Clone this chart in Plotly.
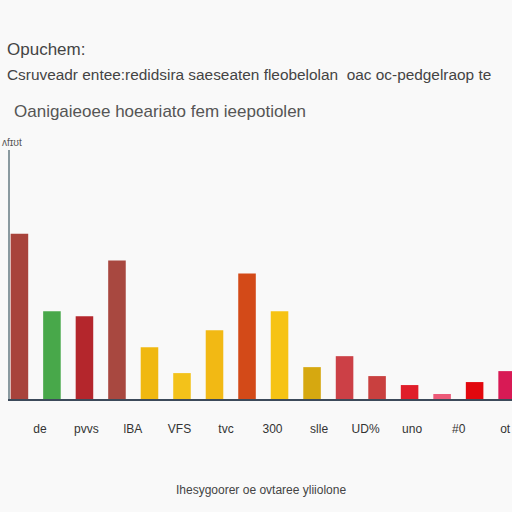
import numpy as np
import plotly.graph_objects as go

# bar values (pixel height above baseline)
values = [166, 88, 83, 139, 52, 26, 69, 126, 88, 32, 43, 23, 14, 5, 17, 28]
colors = ["#a8433b", "#48a84a", "#b4262c", "#a84840", "#f0b810", "#f3c21a",
          "#f2b914", "#d34a18", "#f6c314", "#d6a810", "#cc4046", "#c9403f",
          "#e01e2a", "#ec5a78", "#e2080e", "#d81a55"]
tick_labels = ["de", "pvvs", "lBA", "VFS", "tvc", "300", "slle", "UD%", "uno", "#0", "ot"]

title_top = "Opuchem:"
subtitle = "Csruveadr entee:redidsira saeseaten fleobelolan  oac oc-pedgelraop te"
heading = "Oanigaieoee hoeariato fem ieepotiolen"
x_title = "Ihesygoorer oe ovtaree yliiolone"
y_label = "ʌfɪʊt"

x = np.arange(len(values))

fig = go.Figure()
fig.add_trace(go.Bar(
    x=x, y=values, marker_color=colors, width=0.54,
    marker_line_width=0, showlegend=False,
))

fig.update_layout(
    width=512, height=512,
    margin=dict(l=10, r=0, t=150, b=113),
    paper_bgcolor="#f9f9f9", plot_bgcolor="#f9f9f9",
    font=dict(family="Liberation Sans, Arial, sans-serif", color="#444"),
)
fig.update_xaxes(
    range=[-0.29, 15.15],
    tickvals=np.linspace(0.63, 14.94, len(tick_labels)),
    ticktext=tick_labels,
    tickfont=dict(size=12, color="#333"),
    ticks="", showgrid=False, zeroline=False,
    showline=True, linecolor="#3c4a5a", linewidth=2,
    ticklabelstandoff=18,
)
fig.update_yaxes(
    range=[0, 250], showticklabels=False, showgrid=False, zeroline=False,
    showline=True, linecolor="#8a9aa0", linewidth=2,
)

# title block, positioned by pixel row from the top of the page
anns = [
    (title_top, -0.01, 50, 17, "#444"),
    (subtitle, -0.01, 74, 15.4, "#444"),
    (heading, 0.004, 111, 17, "#555"),
]
for text, xp, ypx, size, col in anns:
    fig.add_annotation(text=text, x=xp, xref="paper", y=(512 - ypx - 113) / 249,
                       yref="paper", xanchor="left", yanchor="middle",
                       showarrow=False, font=dict(size=size, color=col))
fig.add_annotation(text=y_label, x=-0.02, xref="paper", y=1.0, yref="paper",
                   xanchor="left", yanchor="bottom", showarrow=False,
                   font=dict(size=10, color="#555"))
fig.add_annotation(text=x_title, x=0.5, xref="paper", y=(512 - 490 - 113) / 249,
                   yref="paper", xanchor="center", yanchor="middle",
                   showarrow=False, font=dict(size=12, color="#444"))

fig.write_html("out.html", config={"displayModeBar": False},
               post_script="document.body.style.margin='0';document.body.style.overflow='hidden';")
